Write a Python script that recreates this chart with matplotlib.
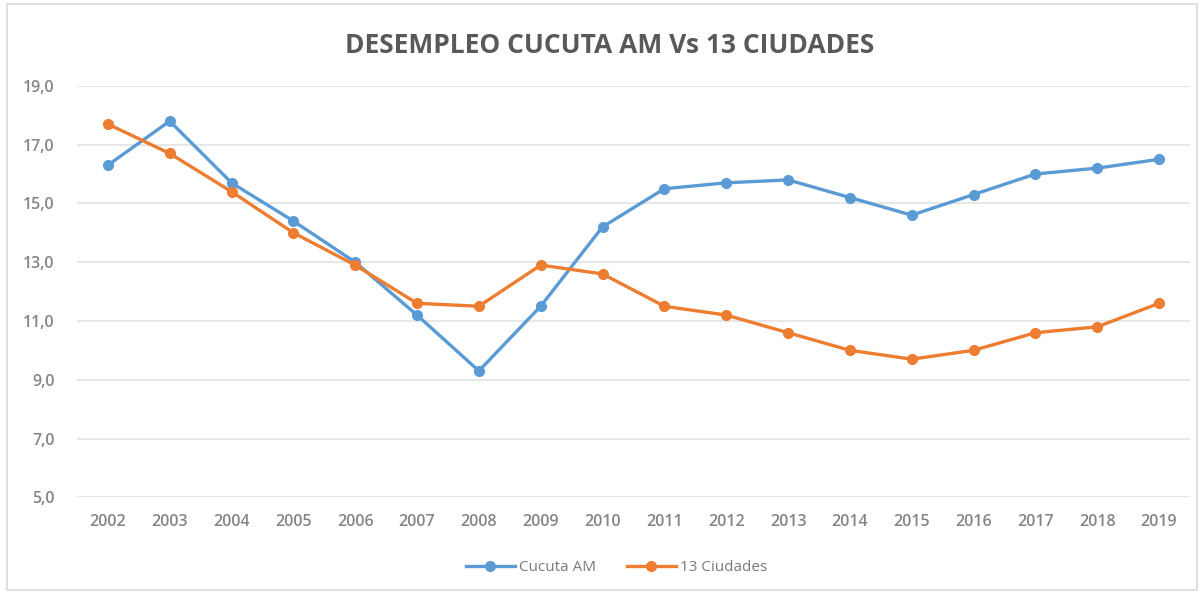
import matplotlib
matplotlib.use("Agg")
from matplotlib import pyplot as plt
from matplotlib.patches import Rectangle
from matplotlib.ticker import FuncFormatter

years = ['2002', '2003', '2004', '2005', '2006', '2007', '2008', '2009', '2010',
         '2011', '2012', '2013', '2014', '2015', '2016', '2017', '2018', '2019']
cucuta = [16.3, 17.8, 15.7, 14.4, 13.0, 11.2, 9.3, 11.5, 14.2,
          15.5, 15.7, 15.8, 15.2, 14.6, 15.3, 16.0, 16.2, 16.5]
ciudades = [17.7, 16.7, 15.4, 14.0, 12.9, 11.6, 11.5, 12.9, 12.6,
            11.5, 11.2, 10.6, 10.0, 9.7, 10.0, 10.6, 10.8, 11.6]

plt.rcParams['font.family'] = ['Open Sans', 'DejaVu Sans']

fig = plt.figure(figsize=(12.02, 5.92), dpi=100)
ax = fig.add_axes([0.064, 0.16, 0.926, 0.695])

# chart frame
fig.patches.append(Rectangle((0.006, 0.004), 0.99, 0.99, transform=fig.transFigure,
                             fill=False, edgecolor='#d9d9d9', linewidth=1.2))

x = range(len(years))
ax.plot(x, cucuta, color='#5B9BD5', linewidth=2.4, marker='o', markersize=7,
        label='Cucuta AM')
ax.plot(x, ciudades, color='#ED7D31', linewidth=2.4, marker='o', markersize=7,
        label='13 Ciudades')

ax.set_xlim(-0.5, len(years) - 0.5)
ax.set_ylim(5, 19)
ax.set_yticks(range(5, 20, 2))
ax.yaxis.set_major_formatter(FuncFormatter(lambda v, p: f'{v:.1f}'.replace('.', ',')))
ax.set_xticks(list(x))
ax.set_xticklabels(years)

ax.grid(axis='y', color='#e3e3e3', linewidth=1.2)
ax.set_axisbelow(True)
for s in ax.spines.values():
    s.set_visible(False)
ax.tick_params(axis='both', length=0, labelsize=11.5, labelcolor='#858585', pad=12)
ax.tick_params(axis='y', pad=16)
for lab in ax.get_xticklabels() + ax.get_yticklabels():
    lab.set_fontweight('semibold')

fig.text(0.507, 0.923, 'DESEMPLEO CUCUTA AM Vs 13 CIUDADES', ha='center', va='center',
         fontsize=19, fontweight='bold', color='#595959')

leg = ax.legend(loc='upper center', bbox_to_anchor=(0.485, -0.12), ncol=2, frameon=False,
                fontsize=11, handlelength=3.2, columnspacing=2.0, handletextpad=0.3)
for t in leg.get_texts():
    t.set_color('#7a7a7a')

fig.savefig('out.png', dpi=100)
